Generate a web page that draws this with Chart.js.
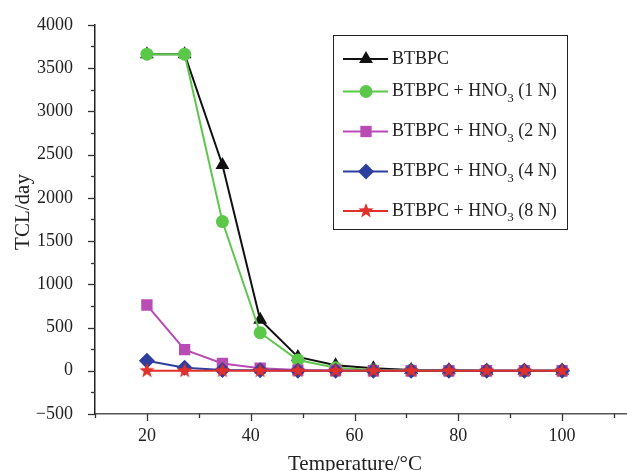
<!DOCTYPE html>
<html>
<head>
<meta charset="utf-8">
<script src="https://cdn.jsdelivr.net/npm/chart.js@4.4.0/dist/chart.umd.min.js"></script>
<style>
  html, body { margin:0; padding:0; background:#fff; }
  #wrap { width:627px; height:471px; }
</style>
</head>
<body>
<div id="wrap"><canvas id="chart" width="627" height="471"></canvas></div>
<script>
// Datos
const temperatures = [20, 27.27, 34.55, 41.82, 49.09, 56.36, 63.64, 70.91, 78.18, 85.45, 92.73, 100];
const tclBase = [3660, 3660, 2380, 590, 160, 65, 30, 10, 5, 0, 0, 0];
const tcl1N = [3660, 3660, 1725, 440, 125, 35, 10, 5, 0, 0, 0, 0];
const tcl2N = [760, 245, 85, 30, 8, 3, 0, 0, 0, 0, 0, 0];
const tcl4N = [115, 35, 10, 5, 0, 0, 0, 0, 0, 0, 0, 0];
const tcl8N = [0, 0, 0, 0, 0, 0, 0, 0, 0, 0, 0, 0];
const seriesNames = ['BTBPC', 'BTBPC + HNO₃ (1 N)', 'BTBPC + HNO₃ (2 N)', 'BTBPC + HNO₃ (4 N)', 'BTBPC + HNO₃ (8 N)'];
const yTicks = [-500, 0, 500, 1000, 1500, 2000, 2500, 3000, 3500, 4000];
const xTicks = [20, 40, 60, 80, 100];
const xTitle = 'Temperature/°C';
const yTitle = 'TCL/day';

const FONT = '"Liberation Serif", "Times New Roman", serif';

// estrella rellena para la serie 8 N
function makeStar(color, r){
  const c = document.createElement('canvas');
  const s = Math.ceil(r*2+2);
  c.width = s; c.height = s;
  const g = c.getContext('2d');
  g.beginPath();
  for(let i=0;i<10;i++){
    const rad = (i%2===0) ? r : r*0.42;
    const a = -Math.PI/2 + i*Math.PI/5;
    const px = s/2 + Math.cos(a)*rad, py = s/2 + Math.sin(a)*rad;
    if(i===0) g.moveTo(px,py); else g.lineTo(px,py);
  }
  g.closePath();
  g.fillStyle = color; g.fill();
  return c;
}

const starImg = makeStar('#e2302a', 8);

const toXY = vals => vals.map((v,i)=>({x: temperatures[i], y: v}));

const datasets = [
  { label: seriesNames[0], data: toXY(tclBase), borderColor:'#111', backgroundColor:'#111', pointStyle:'triangle', pointRadius:8, order:5 },
  { label: seriesNames[1], data: toXY(tcl1N), borderColor:'#5cc84a', backgroundColor:'#5cc84a', pointStyle:'circle', pointRadius:6.5, order:4 },
  { label: seriesNames[2], data: toXY(tcl2N), borderColor:'#b94bb5', backgroundColor:'#b94bb5', pointStyle:'rect', pointRadius:8, order:3 },
  { label: seriesNames[3], data: toXY(tcl4N), borderColor:'#2c3e9e', backgroundColor:'#2c3e9e', pointStyle:'rectRot', pointRadius:8, order:2 },
  { label: seriesNames[4], data: toXY(tcl8N), borderColor:'#e2302a', backgroundColor:'#e2302a', pointStyle:starImg, pointRadius:8, order:1 }
].map(d => Object.assign({ borderWidth:2, pointBorderWidth:0, tension:0, fill:false }, d));

// ticks mayores y menores hacia afuera, y titulos de ejes
const axisPlugin = {
  id:'axisExtras',
  afterDraw(chart){
    const ctx = chart.ctx, xs = chart.scales.x, ys = chart.scales.y;
    const a = chart.chartArea;
    ctx.save();
    ctx.strokeStyle = '#333'; ctx.lineWidth = 1.3;
    for(let v=-500; v<=4000; v+=250){
      const y = Math.round(ys.getPixelForValue(v))+0.5;
      const len = (v%500===0) ? 7 : 4;
      ctx.beginPath(); ctx.moveTo(a.left, y); ctx.lineTo(a.left-len, y); ctx.stroke();
    }
    for(let v=10; v<=110; v+=10){
      const x = Math.round(xs.getPixelForValue(v))+0.5;
      const len = (v%20===0) ? 7 : 4;
      ctx.beginPath(); ctx.moveTo(x, a.bottom); ctx.lineTo(x, a.bottom+len); ctx.stroke();
    }
    ctx.fillStyle = '#222';
    ctx.font = '21px ' + FONT;
    ctx.textAlign = 'center';
    ctx.textBaseline = 'alphabetic';
    ctx.fillText(xTitle, 355, 470);
    ctx.translate(29, 212);
    ctx.rotate(-Math.PI/2);
    ctx.fillText(yTitle, 0, 0);
    ctx.restore();
  }
};

// leyenda con subindice
const legendPlugin = {
  id:'legendBox',
  afterDraw(chart){
    const ctx = chart.ctx;
    const box = {x:333.5, y:35.5, w:234, h:194};
    const rows = [59, 91.5, 131.5, 171.5, 211];
    ctx.save();
    ctx.strokeStyle = '#222'; ctx.lineWidth = 1;
    ctx.strokeRect(box.x, box.y, box.w, box.h);
    chart.data.datasets.forEach((ds, i) => {
      const y = rows[i];
      ctx.strokeStyle = ds.borderColor; ctx.lineWidth = 2;
      ctx.beginPath(); ctx.moveTo(343, y); ctx.lineTo(388, y); ctx.stroke();
      ctx.fillStyle = ds.backgroundColor;
      Chart.helpers.drawPoint(ctx, { pointStyle: ds.pointStyle, radius: ds.pointRadius, borderWidth: 0 }, 366, y);
      ctx.fillStyle = '#222'; ctx.textBaseline = 'middle'; ctx.textAlign = 'left';
      const parts = ds.label.split('₃');
      let x = 392;
      ctx.font = '18px ' + FONT;
      ctx.fillText(parts[0], x, y);
      if(parts.length > 1){
        x += ctx.measureText(parts[0]).width;
        ctx.font = '13px ' + FONT;
        ctx.fillText('3', x, y+7);
        x += ctx.measureText('3').width;
        ctx.font = '18px ' + FONT;
        ctx.fillText(parts[1], x, y);
      }
    });
    ctx.restore();
  }
};

new Chart(document.getElementById('chart'), {
  type:'line',
  data:{ datasets },
  options:{
    responsive:false,
    animation:false,
    layout:{ autoPadding:false, padding:{ top:22, right:0, left:0, bottom:0 } },
    plugins:{ legend:{ display:false }, tooltip:{ enabled:false } },
    scales:{
      x:{
        type:'linear', min:10, max:112.5,
        afterBuildTicks: s => { s.ticks = xTicks.map(v=>({value:v})); },
        afterFit: s => { s.height = 57; },
        grid:{ display:false },
        border:{ display:true, color:'#555', width:1.5 },
        ticks:{ color:'#222', font:{ family:FONT, size:18 }, padding:3, maxRotation:0 },
        title:{ display:false }
      },
      y:{
        min:-500, max:4000,
        afterBuildTicks: s => { s.ticks = yTicks.map(v=>({value:v})); },
        afterFit: s => { s.width = 95; },
        grid:{ display:false },
        border:{ display:true, color:'#222', width:1.5 },
        ticks:{ color:'#222', font:{ family:FONT, size:18 }, padding:14, callback: v => v < 0 ? '\u2212' + Math.abs(v) : String(v) },
        title:{ display:false }
      }
    }
  },
  plugins:[axisPlugin, legendPlugin]
});
</script>
</body>
</html>
